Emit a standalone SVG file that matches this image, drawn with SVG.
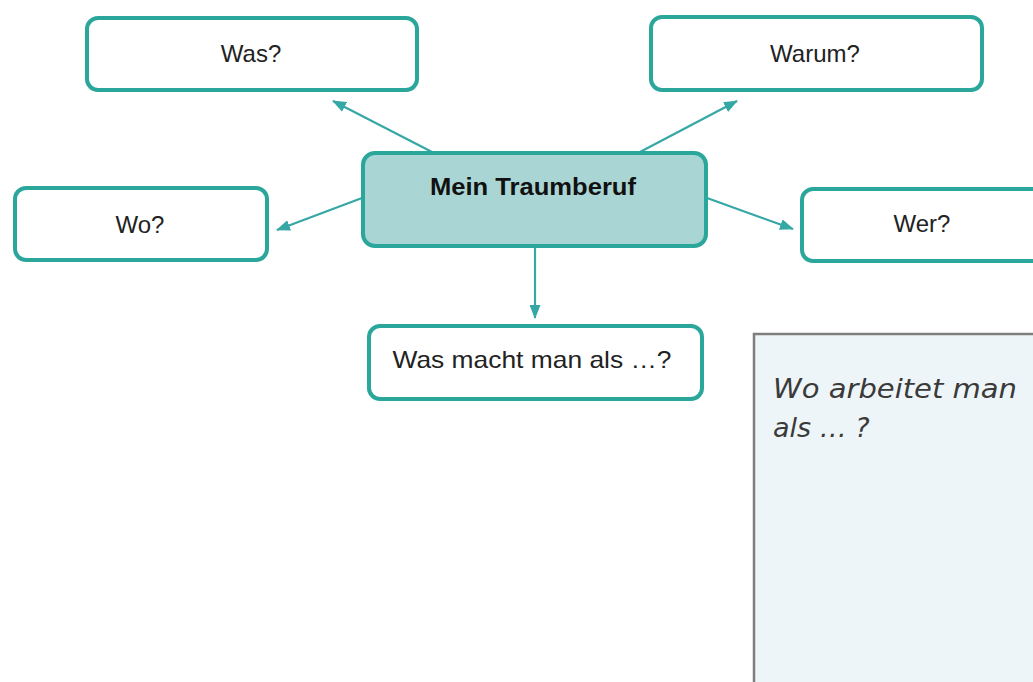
<svg xmlns="http://www.w3.org/2000/svg" width="1033" height="682" viewBox="0 0 1033 682">
<style>
.box{fill:#ffffff;stroke:#2ba69b;stroke-width:4}
.center{fill:#a9d6d4;stroke:#2ba69b;stroke-width:4}
.lbl{font-family:"Liberation Sans",Arial,sans-serif;font-size:24px;fill:#222;text-anchor:middle}
.bold{font-weight:bold;fill:#111}
.conn{stroke:#35a8a6;stroke-width:2.2;fill:none;marker-end:url(#ah)}
.hand{font-family:"DejaVu Sans",sans-serif;font-style:italic;font-size:27px;fill:#3a3a3a}
</style>
<defs>
<marker id="ah" viewBox="0 0 14 11" refX="13" refY="5.5" markerWidth="14" markerHeight="11" markerUnits="userSpaceOnUse" orient="auto">
<path d="M0,0 L14,5.5 L0,11 Z" fill="#35a8a6"/>
</marker>
</defs>
<rect width="1033" height="682" fill="#ffffff"/>
<g id="connectors">
<line class="conn" x1="432" y1="152" x2="333" y2="101"/>
<line class="conn" x1="640" y1="152" x2="737" y2="101"/>
<line class="conn" x1="362" y1="198" x2="277" y2="230"/>
<line class="conn" x1="707" y1="198" x2="793" y2="229"/>
<line class="conn" x1="535" y1="248" x2="535" y2="318"/>
</g>
<g id="node-center">
<rect class="center" x="363" y="153" width="343" height="93" rx="12"/>
<text class="lbl bold" x="533" y="195" textLength="206" lengthAdjust="spacingAndGlyphs">Mein Traumberuf</text>
</g>
<g id="node-was">
<rect class="box" x="87" y="18" width="330" height="72" rx="11"/>
<text class="lbl" x="251" y="62">Was?</text>
</g>
<g id="node-warum">
<rect class="box" x="651" y="17" width="331" height="73" rx="11"/>
<text class="lbl" x="815" y="62">Warum?</text>
</g>
<g id="node-wo">
<rect class="box" x="15" y="188" width="252" height="72" rx="11"/>
<text class="lbl" x="140" y="233">Wo?</text>
</g>
<g id="node-wer">
<rect class="box" x="802" y="189" width="250" height="72" rx="11"/>
<text class="lbl" x="922" y="232">Wer?</text>
</g>
<g id="node-wasmacht">
<rect class="box" x="369" y="326" width="333" height="73" rx="11"/>
<text class="lbl" x="532" y="368" textLength="279" lengthAdjust="spacingAndGlyphs">Was macht man als …?</text>
</g>
<g id="note">
<rect x="754" y="334" width="300" height="370" fill="#eef5f8" stroke="#7e7e7e" stroke-width="2.5"/>
<text class="hand" x="773" y="398" textLength="244" lengthAdjust="spacingAndGlyphs">Wo arbeitet man</text>
<text class="hand" x="773" y="437">als … ?</text>
</g>
</svg>
